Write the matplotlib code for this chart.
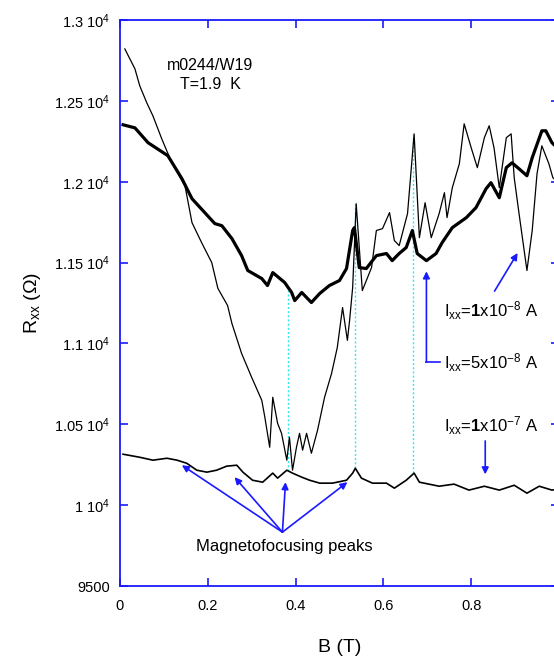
import matplotlib
matplotlib.use("Agg")
import matplotlib.pyplot as plt

plt.rcParams['font.family'] = ['Liberation Sans', 'DejaVu Sans']
plt.rcParams['mathtext.fontset'] = 'custom'
plt.rcParams['mathtext.rm'] = 'Liberation Sans'
plt.rcParams['mathtext.it'] = 'Liberation Sans'
plt.rcParams['mathtext.bf'] = 'Liberation Sans:bold'

# I = 5x10^-8 A (thick curve)
b_thick = [0.007, 0.034, 0.064, 0.109, 0.141, 0.164, 0.216, 0.232, 0.255, 0.277,
           0.291, 0.323, 0.336, 0.348, 0.375, 0.391, 0.398, 0.414, 0.436, 0.455,
           0.477, 0.500, 0.516, 0.530, 0.534, 0.545, 0.561, 0.584, 0.607, 0.620,
           0.636, 0.652, 0.666, 0.677, 0.698, 0.720, 0.734, 0.757, 0.789, 0.811,
           0.834, 0.845, 0.864, 0.880, 0.893, 0.909, 0.927, 0.939, 0.961, 0.970,
           0.984, 1.0]
r_thick = [12352, 12333, 12241, 12161, 12019, 11895, 11741, 11728, 11648, 11543,
           11451, 11401, 11358, 11438, 11377, 11315, 11265, 11315, 11253, 11309,
           11358, 11389, 11463, 11698, 11716, 11469, 11463, 11543, 11556, 11512,
           11556, 11593, 11698, 11556, 11512, 11556, 11624, 11716, 11778, 11840,
           11957, 11994, 11901, 12087, 12117, 12080, 12037, 12148, 12315, 12315,
           12241, 12200]

# I = 1x10^-8 A (thin curve)
b_thin = [0.011, 0.034, 0.045, 0.061, 0.075, 0.095, 0.118, 0.148, 0.164, 0.186,
          0.209, 0.223, 0.245, 0.255, 0.277, 0.300, 0.323, 0.330, 0.341, 0.348,
          0.359, 0.368, 0.380, 0.386, 0.393, 0.402, 0.409, 0.416, 0.425, 0.436,
          0.450, 0.466, 0.482, 0.495, 0.507, 0.518, 0.523, 0.530, 0.538, 0.552,
          0.573, 0.584, 0.598, 0.614, 0.625, 0.636, 0.655, 0.670, 0.682, 0.695,
          0.709, 0.727, 0.739, 0.745, 0.757, 0.773, 0.784, 0.800, 0.814, 0.830,
          0.841, 0.852, 0.864, 0.880, 0.891, 0.898, 0.909, 0.927, 0.939, 0.950,
          0.961, 0.977, 0.986, 1.0]
r_thin = [12821, 12698, 12593, 12488, 12407, 12266, 12117, 11975, 11747, 11623,
          11500, 11340, 11235, 11123, 10938, 10790, 10648, 10543, 10358, 10667,
          10506, 10444, 10278, 10420, 10216, 10358, 10444, 10340, 10444, 10321,
          10463, 10667, 10815, 10975, 11222, 11019, 11142, 11346, 11864, 11327,
          11469, 11698, 11710, 11809, 11636, 11605, 11803, 12296, 11654, 11870,
          11654, 11803, 11932, 11778, 11963, 12111, 12358, 12210, 12087, 12272,
          12346, 12210, 11963, 12272, 12296, 12025, 11803, 11451, 11698, 12050,
          12222, 12111, 12025, 11990]

# I = 1x10^-7 A (bottom curve)
b_low = [0.007, 0.045, 0.075, 0.107, 0.130, 0.152, 0.175, 0.198, 0.220, 0.243,
         0.266, 0.280, 0.302, 0.325, 0.348, 0.359, 0.380, 0.393, 0.414, 0.432,
         0.455, 0.484, 0.516, 0.530, 0.536, 0.550, 0.575, 0.607, 0.625, 0.652,
         0.670, 0.682, 0.727, 0.761, 0.795, 0.830, 0.864, 0.898, 0.927, 0.955,
         0.984, 1.0]
r_low = [10315, 10296, 10278, 10290, 10278, 10259, 10216, 10204, 10216, 10241,
         10247, 10204, 10154, 10142, 10198, 10167, 10216, 10198, 10173, 10154,
         10136, 10136, 10154, 10198, 10228, 10167, 10136, 10136, 10105, 10154,
         10198, 10142, 10117, 10130, 10093, 10117, 10093, 10123, 10074, 10117,
         10093, 10100]

# magnetofocusing peak markers
peak_b = [0.383, 0.535, 0.668]
peak_top = [11330, 11860, 12290]
peak_bottom = [10210, 10228, 10198]

arrow_tips = [(0.141, 10247), (0.261, 10173), (0.377, 10142), (0.518, 10142)]

yticks = [9500, 10000, 10500, 11000, 11500, 12000, 12500, 13000]
ylabels = ['9500', '1 10$^4$', '1.05 10$^4$', '1.1 10$^4$', '1.15 10$^4$',
           '1.2 10$^4$', '1.25 10$^4$', '1.3 10$^4$']
xticks = [0, 0.2, 0.4, 0.6, 0.8, 1.0]
xlabels = ['0', '0.2', '0.4', '0.6', '0.8', '']

blue = '#1a1aff'

fig = plt.figure(figsize=(5.54, 6.62), dpi=100)
ax = fig.add_axes([0.2166, 0.1148, 0.7924, 0.855])

ax.vlines(peak_b, peak_bottom, peak_top, colors='#33e6f0', linestyles=(0, (1.5, 1.5)), lw=1.0)
ax.plot(b_thin, r_thin, color='black', lw=0.9)
ax.plot(b_thick, r_thick, color='black', lw=2.3)
ax.plot(b_low, r_low, color='black', lw=1.2)

ax.set_xlim(0, 1.0)
ax.set_ylim(9500, 13000)
ax.set_xticks(xticks)
ax.set_xticklabels(xlabels)
ax.set_yticks(yticks)
ax.set_yticklabels(ylabels)
ax.tick_params(direction='in', length=6, width=1.2, color=blue, labelsize=10.5,
               top=True, right=True)
ax.tick_params(axis='x', pad=9)
ax.tick_params(axis='y', pad=7)
for s in ax.spines.values():
    s.set_color(blue)
    s.set_linewidth(1.3)

ax.set_xlabel('B (T)', fontsize=14, labelpad=19)
ax.set_ylabel(r'R$_{\rm xx}$ ($\Omega$)', fontsize=14, labelpad=8)

ax.text(0.205, 12720, 'm0244/W19', fontsize=11.5, ha='center', va='center')
ax.text(0.205, 12600, 'T=1.9  K', fontsize=11.5, ha='center', va='center')

ax.text(0.739, 11204, r'I$_{\rm xx}$=$\mathbf{1}$x10$^{-8}$ A', fontsize=12, va='center')
ax.text(0.739, 10883, r'I$_{\rm xx}$=5x10$^{-8}$ A', fontsize=12, va='center')
ax.text(0.739, 10494, r'I$_{\rm xx}$=$\mathbf{1}$x10$^{-7}$ A', fontsize=12, va='center')

ax.annotate('', xy=(0.909, 11574), xytext=(0.850, 11309),
            arrowprops=dict(arrowstyle='-|>', color=blue, lw=1.2, mutation_scale=10))
ax.plot([0.728, 0.698], [10883, 10883], color=blue, lw=1.2)
ax.annotate('', xy=(0.698, 11463), xytext=(0.698, 10883),
            arrowprops=dict(arrowstyle='-|>', color=blue, lw=1.2, mutation_scale=10,
                            shrinkA=0))
ax.annotate('', xy=(0.832, 10173), xytext=(0.832, 10414),
            arrowprops=dict(arrowstyle='-|>', color=blue, lw=1.2, mutation_scale=10))

for tip in arrow_tips:
    ax.annotate('', xy=tip, xytext=(0.370, 9833),
                arrowprops=dict(arrowstyle='-|>', color=blue, lw=1.2,
                                mutation_scale=10, shrinkA=0, shrinkB=0))
ax.text(0.375, 9747, 'Magnetofocusing peaks', fontsize=12, ha='center', va='center')

fig.savefig('out.png', dpi=100)
